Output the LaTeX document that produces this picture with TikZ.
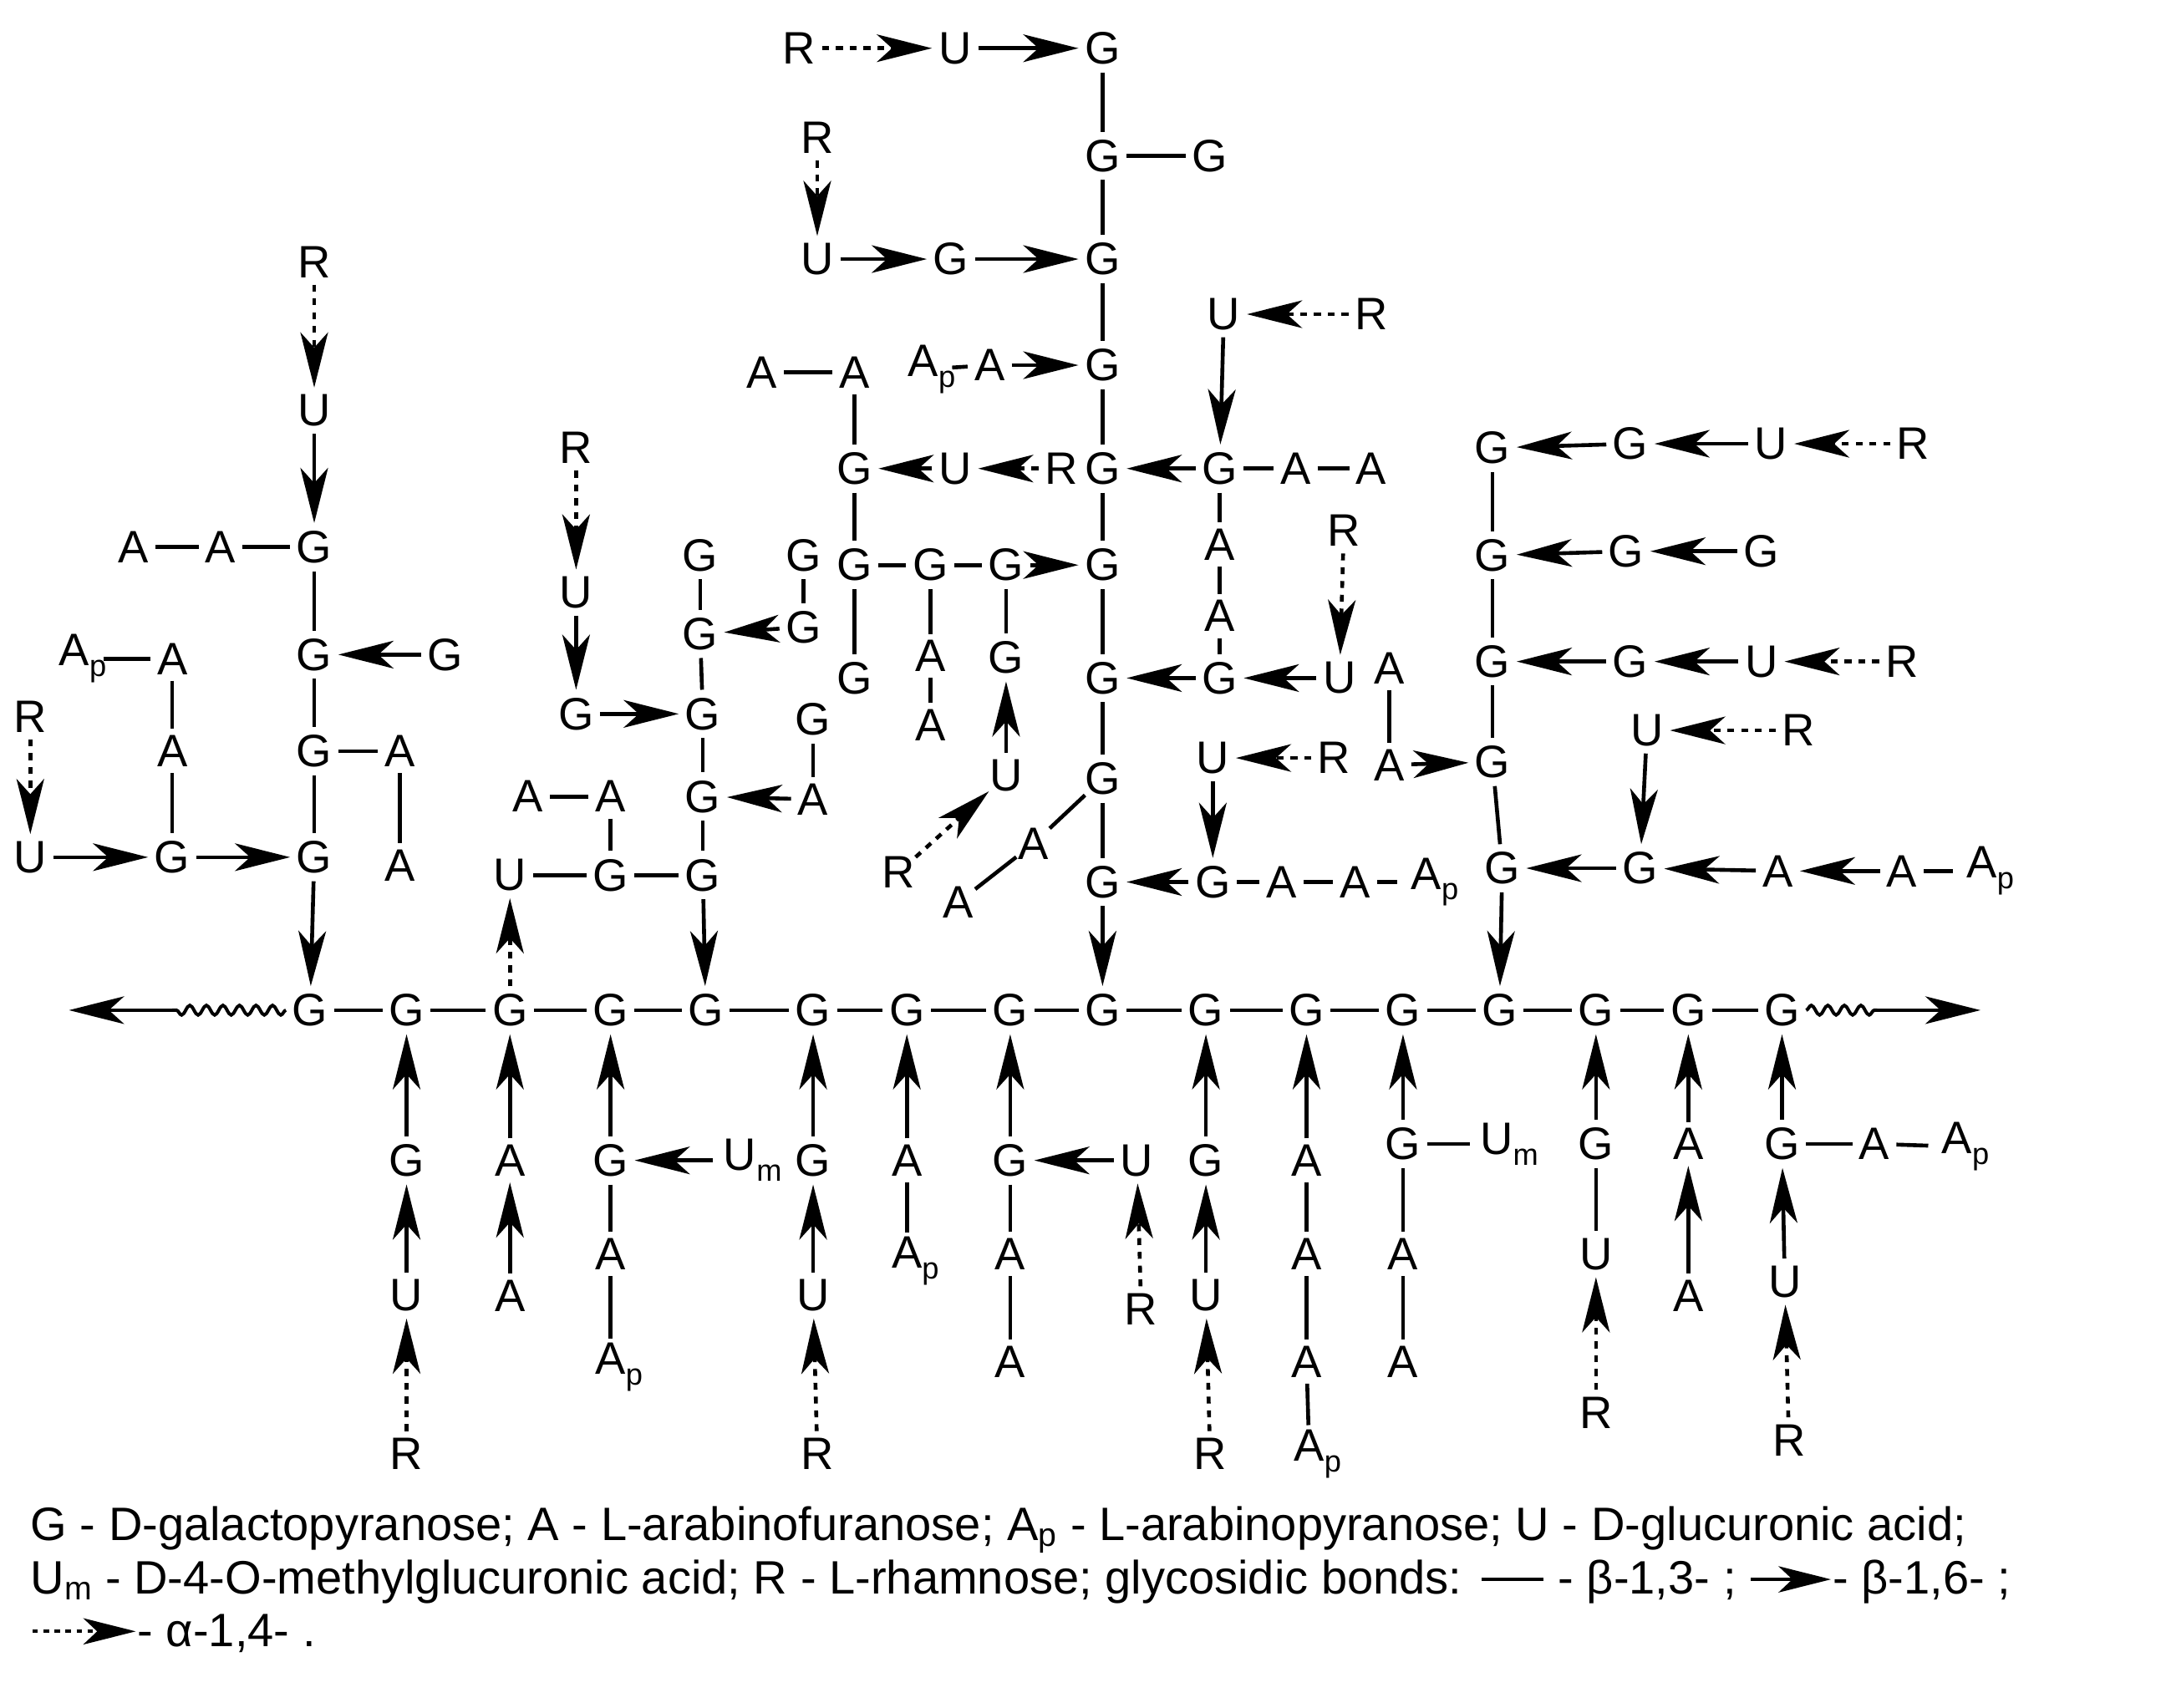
\documentclass[tikz,border=0pt]{standalone}
\usepackage{fontspec}
\setmainfont{Liberation Sans}
\usetikzlibrary{arrows.meta,decorations.pathmorphing}
\newcommand{\Ap}{A\rlap{\raisebox{-.45ex}{\fontsize{22}{22}\selectfont p}}}
\newcommand{\Um}{U\rlap{\raisebox{-.45ex}{\fontsize{22}{22}\selectfont m}}}
\tikzset{
  nd/.style={circle,inner sep=0pt,minimum size=29pt,font=\fontsize{33}{34}\selectfont},
  ln/.style={line width=2.8pt},
  ar/.style={line width=2.8pt,-{Stealth[length=40pt,width=20pt,inset=11pt]}},
  dar/.style={line width=2.8pt,dash pattern=on 5pt off 5pt,-{Stealth[length=40pt,width=20pt,inset=11pt]}},
  wav/.style={line width=2.4pt,decorate,decoration={snake,amplitude=3.5pt,segment length=12pt}},
  leg/.style={anchor=west,inner sep=0pt,font=\fontsize{34}{36}\selectfont}
}
\begin{document}
\begin{tikzpicture}[x=1pt,y=-1pt]
\useasboundingbox (0,0) rectangle (1568,1239);
% backbone
\foreach \n/\x in {1/225,2/295,3/370,4/443,5/512,6/590,7/658,8/733,9/800,10/875,11/948,12/1018,13/1088,14/1158,15/1225,16/1293}
  \node[nd] (b\n) at (\x,733) {G};
\foreach \a/\b in {1/2,2/3,3/4,4/5,5/6,6/7,7/8,8/9,9/10,10/11,11/12,12/13,13/14,14/15,15/16}
  \draw[ln] (b\a) -- (b\b);
\coordinate (lwv) at (125,733); \coordinate (lw) at (50,733);
\coordinate (rwv) at (1362,733); \coordinate (rw) at (1437,733);
\draw[wav] (b1) -- (lwv); \draw[ar] (lwv) -- (lw);
\draw[wav] (b16) -- (rwv); \draw[ar] (rwv) -- (rw);
% left cluster
\node[nd] (LR1) at (228,190) {R}; \node[nd] (LU1) at (228,298) {U};
\node[nd] (LG1) at (228,397) {G}; \node[nd] (LA1) at (97,397) {A}; \node[nd] (LA2) at (160,397) {A};
\node[nd] (LG2) at (228,475) {G}; \node[nd] (LG2b) at (323,475) {G};
\node[nd] (LG3) at (228,545) {G}; \node[nd] (LA3) at (290,545) {A}; \node[nd] (LA4) at (290,628) {A};
\node[nd] (LG4) at (228,622) {G}; \node[nd] (LU2) at (22,622) {U}; \node[nd] (LG5) at (125,622) {G};
\node[nd] (LR2) at (22,520) {R}; \node[nd] (LAp) at (54,478) {\Ap}; \node[nd] (LA5) at (125,478) {A};
\node[nd] (LA6) at (125,545) {A};
\draw[dar] (LR1)--(LU1); \draw[ar] (LU1)--(LG1); \draw[ln] (LA1)--(LA2); \draw[ln] (LA2)--(LG1);
\draw[ln] (LG1)--(LG2); \draw[ar] (LG2b)--(LG2); \draw[ln] (LG2)--(LG3); \draw[ln] (LG3)--(LA3);
\draw[ln] (LA3)--(LA4); \draw[ln] (LG3)--(LG4); \draw[ar] (LG4)--(b1); \draw[ar] (LU2)--(LG5);
\draw[ar] (LG5)--(LG4); \draw[dar] (LR2)--(LU2); \draw[ln] (LAp)--(LA5); \draw[ln] (LA5)--(LA6); \draw[ln] (LA6)--(LG5);
% cluster 2
\node[nd] (MR) at (418,325) {R}; \node[nd] (MU) at (418,430) {U}; \node[nd] (MG) at (418,518) {G};
\node[nd] (C1) at (508,403) {G}; \node[nd] (C2) at (508,460) {G}; \node[nd] (C3) at (510,518) {G};
\node[nd] (C4) at (510,578) {G}; \node[nd] (C5) at (510,635) {G};
\node[nd] (D1) at (583,403) {G}; \node[nd] (D2) at (583,455) {G};
\node[nd] (E1) at (590,522) {G}; \node[nd] (E2) at (590,580) {A};
\node[nd] (F1) at (383,578) {A}; \node[nd] (F2) at (443,578) {A}; \node[nd] (F3) at (443,635) {G}; \node[nd] (F4) at (370,635) {U};
\draw[dar] (MR)--(MU); \draw[ar] (MU)--(MG); \draw[ar] (MG)--(C3);
\draw[ln] (C1)--(C2); \draw[ln] (C2)--(C3); \draw[ln] (C3)--(C4); \draw[ln] (C4)--(C5);
\draw[ln] (D1)--(D2); \draw[ar] (D2)--(C2); \draw[ln] (E1)--(E2); \draw[ar] (E2)--(C4);
\draw[ln] (F1)--(F2); \draw[ln] (F2)--(F3); \draw[ln] (F4)--(F3); \draw[ln] (F3)--(C5);
\draw[ar] (C5)--(b5); \draw[dar] (b3)--(F4);
% upper central
\node[nd] (TR) at (580,35) {R}; \node[nd] (TU) at (693,35) {U}; \node[nd] (S1) at (800,35) {G};
\node[nd] (S2) at (800,113) {G}; \node[nd] (S2b) at (878,113) {G}; \node[nd] (S3) at (800,188) {G};
\node[nd] (TR2) at (593,100) {R}; \node[nd] (TU2) at (593,188) {U}; \node[nd] (TG) at (690,188) {G};
\node[nd] (S4) at (800,265) {G}; \node[nd] (P1) at (553,270) {A}; \node[nd] (P2) at (620,270) {A};
\node[nd] (P3) at (670,268) {\Ap}; \node[nd] (P4) at (718,265) {A};
\node[nd] (S5) at (800,340) {G}; \node[nd] (Q1) at (620,340) {G}; \node[nd] (Q2) at (693,340) {U}; \node[nd] (Q3) at (770,340) {R};
\node[nd] (H1) at (885,340) {G}; \node[nd] (H2) at (940,340) {A}; \node[nd] (H3) at (995,340) {A};
\node[nd] (HU) at (888,228) {U}; \node[nd] (HR) at (995,228) {R};
\node[nd] (HA1) at (885,395) {A}; \node[nd] (HA2) at (885,447) {A};
\node[nd] (K1) at (620,410) {G}; \node[nd] (K2) at (675,410) {G}; \node[nd] (K3) at (730,410) {G};
\node[nd] (S6) at (800,410) {G}; \node[nd] (K4) at (620,492) {G};
\node[nd] (KA1) at (675,476) {A}; \node[nd] (KA2) at (675,526) {A};
\node[nd] (K5) at (730,477) {G}; \node[nd] (KU) at (730,563) {U}; \node[nd] (KR) at (652,633) {R};
\node[nd] (S7) at (800,492) {G}; \node[nd] (H4) at (885,492) {G}; \node[nd] (H5) at (972,492) {U};
\node[nd] (HR2) at (975,385) {R};
\node[nd] (S8) at (800,565) {G}; \node[nd] (J1) at (750,612) {A}; \node[nd] (J2) at (695,655) {A};
\node[nd] (S9) at (800,640) {G}; \node[nd] (V1) at (880,640) {G}; \node[nd] (V2) at (930,640) {A};
\node[nd] (V3) at (983,640) {A}; \node[nd] (V4) at (1035,640) {\Ap};
\node[nd] (VU) at (880,550) {U}; \node[nd] (VR) at (968,550) {R};
\draw[dar] (TR)--(TU); \draw[ar] (TU)--(S1); \draw[ln] (S1)--(S2); \draw[ln] (S2)--(S2b); \draw[ln] (S2)--(S3);
\draw[dar] (TR2)--(TU2); \draw[ar] (TU2)--(TG); \draw[ar] (TG)--(S3); \draw[ln] (S3)--(S4);
\draw[ln] (P1)--(P2); \draw[ln] (P2)--(Q1); \draw[ln] (P3)--(P4); \draw[ar] (P4)--(S4); \draw[ln] (S4)--(S5);
\draw[ar] (Q2)--(Q1); \draw[dar] (Q3)--(Q2); \draw[ar] (H1)--(S5); \draw[ln] (H1)--(H2); \draw[ln] (H2)--(H3);
\draw[dar] (HR)--(HU); \draw[ar] (HU)--(H1); \draw[ln] (H1)--(HA1); \draw[ln] (HA1)--(HA2); \draw[ln] (HA2)--(H4);
\draw[ln] (Q1)--(K1); \draw[ln] (K1)--(K2); \draw[ln] (K2)--(K3); \draw[ar] (K3)--(S6);
\draw[ln] (K1)--(K4); \draw[ln] (K2)--(KA1); \draw[ln] (KA1)--(KA2); \draw[ln] (K3)--(K5);
\draw[ar] (KU)--(K5); \draw[dar] (KR)--(KU); \draw[ln] (S5)--(S6); \draw[ln] (S6)--(S7);
\draw[ar] (H4)--(S7); \draw[ar] (H5)--(H4); \draw[dar] (HR2)--(H5);
\draw[ln] (S7)--(S8); \draw[ln] (S8)--(J1); \draw[ln] (J1)--(J2); \draw[ln] (S8)--(S9);
\draw[ar] (V1)--(S9); \draw[ln] (V1)--(V2); \draw[ln] (V2)--(V3); \draw[ln] (V3)--(V4);
\draw[dar] (VR)--(VU); \draw[ar] (VU)--(V1); \draw[ar] (S9)--(b9);
% right cluster
\node[nd] (W1) at (1083,325) {G}; \node[nd] (W2) at (1183,322) {G}; \node[nd] (W3) at (1285,322) {U}; \node[nd] (W4) at (1388,322) {R};
\node[nd] (X1) at (1083,403) {G}; \node[nd] (X2) at (1180,400) {G}; \node[nd] (X3) at (1278,400) {G};
\node[nd] (Y1) at (1083,480) {G}; \node[nd] (Y2) at (1183,480) {G}; \node[nd] (Y3) at (1278,480) {U}; \node[nd] (Y4) at (1380,480) {R};
\node[nd] (Z1) at (1083,553) {G}; \node[nd] (ZA1) at (1008,485) {A}; \node[nd] (ZA2) at (1008,555) {A};
\node[nd] (Z2) at (1090,630) {G}; \node[nd] (Z3) at (1190,630) {G}; \node[nd] (Z4) at (1290,632) {A};
\node[nd] (Z5) at (1380,632) {A}; \node[nd] (Z6) at (1438,632) {\Ap};
\node[nd] (ZU) at (1195,530) {U}; \node[nd] (ZR) at (1305,530) {R};
\draw[ar] (W2)--(W1); \draw[ar] (W3)--(W2); \draw[dar] (W4)--(W3); \draw[ln] (W1)--(X1);
\draw[ar] (X2)--(X1); \draw[ar] (X3)--(X2); \draw[ln] (X1)--(Y1);
\draw[ar] (Y2)--(Y1); \draw[ar] (Y3)--(Y2); \draw[dar] (Y4)--(Y3); \draw[ln] (Y1)--(Z1);
\draw[ln] (ZA1)--(ZA2); \draw[ar] (ZA2)--(Z1); \draw[ln] (Z1)--(Z2);
\draw[ar] (Z3)--(Z2); \draw[ar] (Z4)--(Z3); \draw[ar] (Z5)--(Z4); \draw[ln] (Z5)--(Z6);
\draw[dar] (ZR)--(ZU); \draw[ar] (ZU)--(Z3); \draw[ar] (Z2)--(b13);
% bottom
\node[nd] (B2a) at (295,842) {G}; \node[nd] (B2b) at (295,940) {U}; \node[nd] (B2c) at (295,1055) {R};
\draw[ar] (B2a)--(b2); \draw[ar] (B2b)--(B2a); \draw[dar] (B2c)--(B2b);
\node[nd] (B3a) at (370,842) {A}; \node[nd] (B3b) at (370,940) {A};
\draw[ar] (B3a)--(b3); \draw[ar] (B3b)--(B3a);
\node[nd] (B4a) at (443,842) {G}; \node[nd] (B4m) at (537,842) {\Um}; \node[nd] (B4b) at (443,910) {A}; \node[nd] (B4c) at (443,992) {\Ap};
\draw[ar] (B4a)--(b4); \draw[ar] (B4m)--(B4a); \draw[ln] (B4a)--(B4b); \draw[ln] (B4b)--(B4c);
\node[nd] (B6a) at (590,842) {G}; \node[nd] (B6b) at (590,940) {U}; \node[nd] (B6c) at (593,1055) {R};
\draw[ar] (B6a)--(b6); \draw[ar] (B6b)--(B6a); \draw[dar] (B6c)--(B6b);
\node[nd] (B7a) at (658,842) {A}; \node[nd] (B7b) at (658,915) {\Ap};
\draw[ar] (B7a)--(b7); \draw[ln] (B7a)--(B7b);
\node[nd] (B8a) at (733,842) {G}; \node[nd] (B8u) at (825,842) {U}; \node[nd] (B8r) at (828,950) {R};
\node[nd] (B8b) at (733,910) {A}; \node[nd] (B8c) at (733,988) {A};
\draw[ar] (B8a)--(b8); \draw[ar] (B8u)--(B8a); \draw[dar] (B8r)--(B8u); \draw[ln] (B8a)--(B8b); \draw[ln] (B8b)--(B8c);
\node[nd] (B10a) at (875,842) {G}; \node[nd] (B10b) at (875,940) {U}; \node[nd] (B10c) at (878,1055) {R};
\draw[ar] (B10a)--(b10); \draw[ar] (B10b)--(B10a); \draw[dar] (B10c)--(B10b);
\node[nd] (B11a) at (948,842) {A}; \node[nd] (B11b) at (948,910) {A}; \node[nd] (B11c) at (948,988) {A}; \node[nd] (B11d) at (950,1055) {\Ap};
\draw[ar] (B11a)--(b11); \draw[ln] (B11a)--(B11b); \draw[ln] (B11b)--(B11c); \draw[ln] (B11c)--(B11d);
\node[nd] (B12a) at (1018,830) {G}; \node[nd] (B12m) at (1086,830) {\Um}; \node[nd] (B12b) at (1018,910) {A}; \node[nd] (B12c) at (1018,988) {A};
\draw[ar] (B12a)--(b12); \draw[ln] (B12a)--(B12m); \draw[ln] (B12a)--(B12b); \draw[ln] (B12b)--(B12c);
\node[nd] (B14a) at (1158,830) {G}; \node[nd] (B14b) at (1158,910) {U}; \node[nd] (B14c) at (1158,1025) {R};
\draw[ar] (B14a)--(b14); \draw[ln] (B14a)--(B14b); \draw[dar] (B14c)--(B14b);
\node[nd] (B15a) at (1225,830) {A}; \node[nd] (B15b) at (1225,940) {A};
\draw[ar] (B15a)--(b15); \draw[ar] (B15b)--(B15a);
\node[nd] (B16a) at (1293,830) {G}; \node[nd] (B16b) at (1295,930) {U}; \node[nd] (B16c) at (1298,1045) {R};
\node[nd] (B16d) at (1360,830) {A}; \node[nd] (B16e) at (1420,832) {\Ap};
\draw[ar] (B16a)--(b16); \draw[ar] (B16b)--(B16a); \draw[dar] (B16c)--(B16b);
\draw[ln] (B16a)--(B16d); \draw[ln] (B16d)--(B16e);
% legend
\node[leg] (lg1) at (22,1110) {G - D-galactopyranose; A - L-arabinofuranose; A\textsubscript{p} - L-arabinopyranose; U - D-glucuronic acid;};
\node[leg] (lg2) at (22,1148) {U\textsubscript{m} - D-4-O-methylglucuronic acid; R - L-rhamnose; glycosidic bonds: \tikz[baseline=-0.6ex]\draw[line width=2.6pt] (0pt,0pt)--(45pt,0pt); - β-1,3- ; \tikz[baseline=-0.6ex]\draw[line width=2.6pt,-{Stealth[length=38pt,width=19pt,inset=10pt]}] (0pt,0pt)--(58pt,0pt);- β-1,6- ;};
\node[leg] (lg3) at (22,1185) {\tikz[baseline=-0.6ex]\draw[line width=2.6pt,dash pattern=on 4pt off 4pt,-{Stealth[length=38pt,width=19pt,inset=10pt]}] (0pt,0pt)--(75pt,0pt);- α-1,4- .};
\end{tikzpicture}
\end{document}
